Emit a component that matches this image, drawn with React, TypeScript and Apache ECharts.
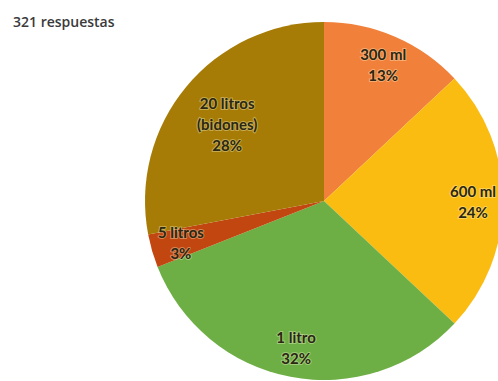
import React, { useEffect, useRef } from "react";
import * as echarts from "echarts";

const categories = ["300 ml", "600 ml", "1 litro", "5 litros", "20 litros\n(bidones)"];
const percents = [13, 24, 32, 3, 28];
const colors = ["#F0803A", "#FBBC12", "#6DAF45", "#C2460F", "#A67C06"];
const titleText = "321 respuestas";

export default function App() {
  const ref = useRef<HTMLDivElement>(null);
  useEffect(() => {
    if (!ref.current) return;
    const chart = echarts.init(ref.current, null, { renderer: "svg" });
    const data = categories.map((c, i) => ({
      name: c,
      value: percents[i],
      itemStyle: { color: colors[i] },
    }));
    const labelData = categories.map((c, i) => ({
      name: c,
      value: percents[i],
      label: i === 4 ? { offset: [18, 18] } : undefined,
    }));
    chart.setOption({
      animation: false,
      title: {
        text: titleText,
        left: 8,
        top: 9,
        textStyle: {
          fontFamily: "Open Sans",
          fontSize: 14,
          fontWeight: 600,
          color: "#3a3a3a",
        },
      },
      series: [
        {
          type: "pie",
          center: [324, 201],
          radius: 179,
          startAngle: 90,
          clockwise: true,
          silent: true,
          label: { show: false },
          labelLine: { show: false },
          itemStyle: { borderWidth: 0 },
          data,
        },
        {
          type: "pie",
          center: [324, 201],
          radius: [113, 179],
          startAngle: 90,
          clockwise: true,
          silent: true,
          itemStyle: { color: "transparent", borderWidth: 0 },
          labelLine: { show: false },
          label: {
            show: true,
            position: "inside",
            formatter: (p: any) => `${p.name}\n${p.value}%`,
            fontFamily: "Lato",
            fontSize: 15,
            fontWeight: "bold",
            lineHeight: 21,
            color: "#2b2712",
            textBorderColor: "rgba(255,255,220,0.35)",
            textBorderWidth: 2,
          },
          data: labelData,
        },
      ],
    });
    return () => chart.dispose();
  }, []);
  return (
    <div
      ref={ref}
      style={{ position: "fixed", left: 0, top: 0, width: 498, height: 381, background: "#fff" }}
    />
  );
}
